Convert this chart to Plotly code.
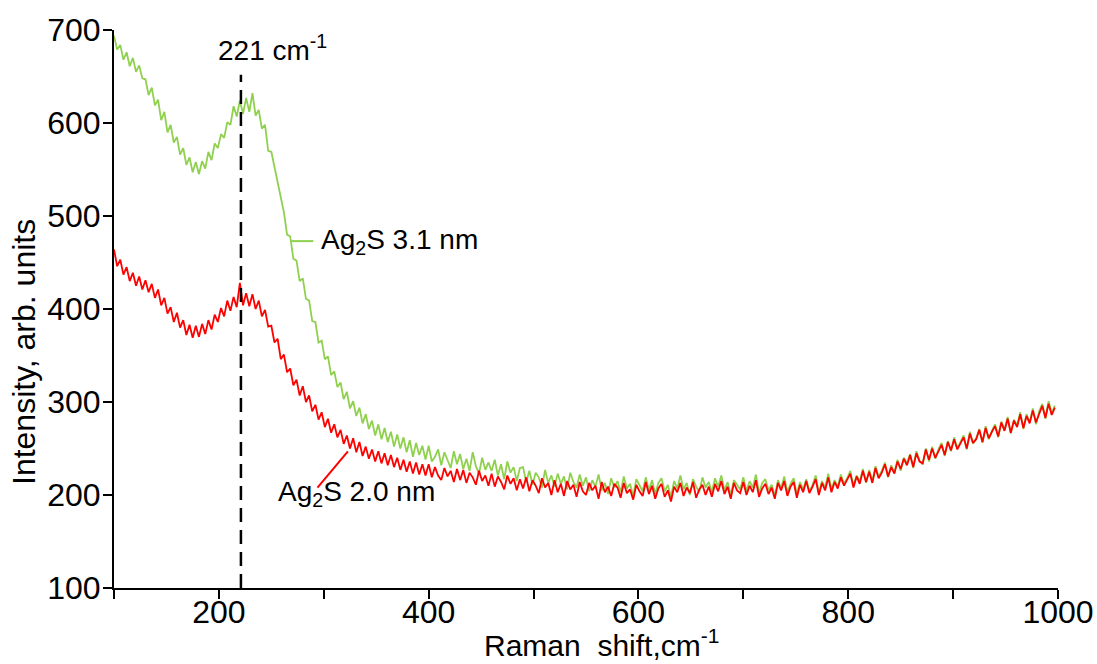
import plotly.graph_objects as go

# Raman shift grid (cm^-1), step 3
raman_shift = list(range(100, 1000, 3))

# Ag2S 3.1 nm (green) intensity
ag2s_31nm = [
    694, 679, 684, 668, 676, 661, 670, 655, 662, 648,
    647, 630, 638, 619, 625, 603, 612, 590, 598, 579,
    585, 566, 573, 555, 563, 547, 558, 545, 559, 551,
    569, 560, 578, 573, 588, 584, 601, 598, 618, 607,
    624, 610, 627, 612, 632, 608, 614, 594, 598, 570,
    569, 552, 538, 521, 504, 480, 478, 454, 452, 430,
    433, 411, 409, 387, 386, 364, 366, 346, 349, 329,
    333, 316, 321, 303, 311, 293, 301, 285, 294, 277,
    287, 271, 280, 264, 276, 260, 272, 257, 268, 252,
    265, 250, 262, 246, 259, 241, 256, 243, 253, 238,
    253, 236, 241, 249, 232, 246, 238, 229, 247, 233,
    244, 228, 239, 226, 246, 231, 223, 240, 227, 235,
    226, 238, 221, 233, 217, 236, 224, 230, 215, 229,
    230, 214, 226, 211, 224, 219, 208, 227, 213, 221,
    209, 223, 212, 220, 206, 224, 214, 208, 222, 210,
    219, 204, 216, 209, 222, 205, 213, 201, 218, 208,
    215, 203, 220, 207, 212, 199, 217, 210, 204, 219,
    205, 216, 201, 213, 218, 204, 211, 198, 215, 207,
    221, 206, 213, 200, 217, 209, 203, 219, 208, 214,
    203, 218, 209, 221, 205, 214, 200, 216, 211, 206,
    219, 204, 215, 208, 222, 202, 213, 217, 205, 211,
    199, 216, 207, 220, 203, 212, 218, 201, 214, 206,
    217, 204, 211, 221, 202, 215, 208, 223, 206, 216,
    209, 222, 212, 218, 226, 210, 221, 215, 228, 213,
    227, 215, 231, 220, 226, 235, 219, 232, 224, 238,
    226, 240, 234, 244, 229, 247, 237, 233, 250, 236,
    252, 239, 249, 256, 242, 258, 247, 262, 250, 257,
    264, 249, 268, 255, 261, 271, 256, 274, 260, 269,
    276, 262, 279, 270, 284, 266, 281, 275, 289, 271,
    287, 278, 293, 276, 290, 298, 282, 301, 288, 296,
]

# Ag2S 2.0 nm (red) intensity
ag2s_20nm = [
    464, 446, 453, 437, 445, 430, 439, 425, 435, 421,
    431, 418, 427, 412, 421, 404, 412, 395, 402, 386,
    396, 380, 388, 372, 383, 369, 382, 370, 384, 373,
    388, 378, 394, 386, 401, 392, 409, 398, 413, 402,
    428, 404, 417, 403, 416, 400, 409, 392, 399, 381,
    382, 364, 368, 346, 351, 332, 336, 318, 324, 307,
    317, 300, 307, 290, 297, 281, 289, 273, 282, 267,
    276, 262, 270, 255, 264, 250, 261, 246, 257, 242,
    252, 239, 249, 236, 247, 234, 245, 232, 243, 230,
    240, 227, 238, 225, 236, 223, 235, 222, 233, 221,
    233, 219, 230, 221, 216, 229, 220, 226, 214, 228,
    216, 227, 213, 224, 219, 211, 226, 215, 221, 210,
    223, 209, 220, 214, 206, 221, 212, 218, 205, 217,
    207, 219, 204, 216, 210, 202, 218, 208, 213, 200,
    216, 203, 212, 199, 215, 206, 211, 198, 214, 204,
    200, 213, 205, 210, 196, 214, 203, 209, 199, 212,
    208, 197, 213, 202, 206, 195, 211, 204, 199, 214,
    201, 210, 196, 207, 212, 198, 205, 193, 209, 203,
    213, 199, 208, 202, 214, 197, 206, 211, 200, 209,
    198, 212, 204, 215, 201, 209, 196, 213, 205, 202,
    214, 200, 210, 203, 216, 198, 207, 212, 201, 208,
    196, 213, 205, 215, 199, 209, 214, 197, 211, 203,
    215, 202, 209, 217, 200, 213, 205, 219, 203, 214,
    207, 219, 210, 216, 223, 208, 220, 212, 226, 214,
    225, 213, 229, 218, 224, 233, 220, 230, 223, 236,
    228, 239, 232, 243, 230, 245, 236, 234, 249, 238,
    250, 240, 248, 254, 243, 257, 248, 260, 249, 256,
    262, 250, 266, 256, 260, 270, 257, 272, 261, 268,
    274, 263, 278, 269, 282, 267, 280, 273, 287, 272,
    285, 277, 291, 278, 288, 296, 283, 298, 286, 294,
]

x_tickvals = list(range(100, 1001, 100))
x_ticktext = ["", "200", "", "400", "", "600", "", "800", "", "1000"]
y_tickvals = list(range(100, 701, 100))

peak_pos = 221

GREEN = "#8fd14f"
RED = "#ff0000"
FONT = "Liberation Sans, Arial, sans-serif"

fig = go.Figure()
fig.add_trace(go.Scatter(x=raman_shift, y=ag2s_31nm, mode="lines",
                         line=dict(color=GREEN, width=1.8), name="Ag2S 3.1 nm",
                         showlegend=False))
fig.add_trace(go.Scatter(x=raman_shift, y=ag2s_20nm, mode="lines",
                         line=dict(color=RED, width=1.8), name="Ag2S 2.0 nm",
                         showlegend=False))

# dashed peak marker
fig.add_shape(type="line", x0=peak_pos, x1=peak_pos, y0=100, y1=652,
              xref="x", yref="y", line=dict(color="black", width=2.5, dash="14px,8px"))
# leader lines
fig.add_shape(type="line", x0=268, x1=290, y0=473, y1=473, xref="x", yref="y",
              line=dict(color=GREEN, width=2))
fig.add_shape(type="line", x0=294, x1=323, y0=208, y1=247, xref="x", yref="y",
              line=dict(color=RED, width=2))

fig.add_annotation(x=251, y=681, xref="x", yref="y", text="221 cm<sup>-1</sup>",
                   showarrow=False, font=dict(size=28, color="black", family=FONT))
fig.add_annotation(x=295, y=473, xref="x", yref="y", xanchor="left",
                   text="Ag<sub>2</sub>S 3.1 nm", showarrow=False,
                   font=dict(size=28, color="black", family=FONT))
fig.add_annotation(x=254, y=202, xref="x", yref="y", xanchor="left",
                   text="Ag<sub>2</sub>S 2.0 nm", showarrow=False,
                   font=dict(size=28, color="black", family=FONT))
# axis titles
fig.add_annotation(x=0.516, y=0, xref="paper", yref="paper",
                   xanchor="center", yanchor="bottom", yshift=-76,
                   text="Raman  shift,cm<sup>-1</sup>", showarrow=False,
                   font=dict(size=30, color="black", family=FONT))
fig.add_annotation(x=-0.0953, y=0.423, xref="paper", yref="paper",
                   xanchor="center", yanchor="middle", textangle=-90,
                   text="Intensity, arb. units", showarrow=False,
                   font=dict(size=32, color="black", family=FONT))

fig.update_layout(
    width=1097, height=664,
    margin=dict(l=114, r=39, t=30, b=76),
    paper_bgcolor="white", plot_bgcolor="white",
    font=dict(family=FONT, color="black"),
)
fig.update_xaxes(range=[100, 1000], tickvals=x_tickvals, ticktext=x_ticktext,
                 ticks="outside", ticklen=9, tickwidth=2, tickcolor="black",
                 showline=True, linecolor="black", linewidth=2,
                 showgrid=False, zeroline=False, automargin=False,
                 ticklabelstandoff=-14,
                 tickfont=dict(size=32, color="black", family=FONT))
fig.update_yaxes(range=[100, 700], tickvals=y_tickvals,
                 ticks="outside", ticklen=9, tickwidth=2, tickcolor="black",
                 showline=True, linecolor="black", linewidth=2,
                 showgrid=False, zeroline=False, automargin=False,
                 ticklabelstandoff=-4,
                 tickfont=dict(size=32, color="black", family=FONT))

fig.write_html("out.html")
